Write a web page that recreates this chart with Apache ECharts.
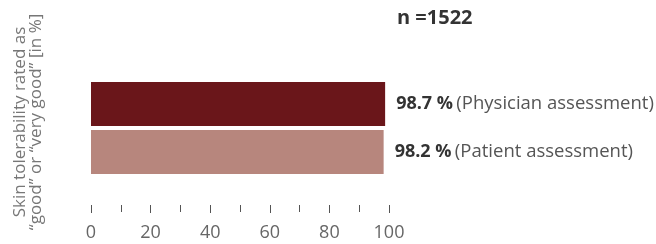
<!DOCTYPE html>
<html>
<head>
<meta charset="utf-8">
<script src="https://cdn.jsdelivr.net/npm/echarts@6/dist/echarts.min.js"></script>
<style>
  html, body { margin: 0; padding: 0; background: #fff; }
  #chart { width: 656px; height: 244px; }
</style>
</head>
<body>
<div id="chart"></div>
<script>
// data
const categories = ['Physician assessment', 'Patient assessment'];
const values = [98.7, 98.2];
const barColors = ['#6a161a', '#b7867d'];
const sampleSize = 'n =1522';
const axisTitle = ['Skin tolerability rated as', '\u201cgood\u201d or \u201cvery good\u201d [in %]'];

const FONT = '"Open Sans", "Noto Sans", sans-serif';

const chart = echarts.init(document.getElementById('chart'));

chart.setOption({
  animation: false,
  grid: { left: 91, right: 267, top: 80, bottom: 68, containLabel: false },
  xAxis: {
    type: 'value', min: 0, max: 100, interval: 20,
    offset: 29,
    axisLine: { show: false },
    splitLine: { show: false },
    axisTick: { show: true, length: 8, lineStyle: { color: '#555', width: 1 } },
    minorTick: { show: true, splitNumber: 2, length: 7, lineStyle: { color: '#555', width: 1 } },
    axisLabel: { margin: 19, fontFamily: FONT, fontSize: 18, color: '#666' }
  },
  yAxis: {
    type: 'category', data: categories, inverse: true,
    axisLine: { show: false }, axisTick: { show: false }, axisLabel: { show: false }
  },
  series: [{
    type: 'bar',
    barWidth: 44,
    data: values.map((v, i) => ({ value: v, itemStyle: { color: barColors[i] } })),
    label: {
      show: true, position: 'right', distance: 11,
      formatter: p => `{b|${p.value.toFixed(1)} %} {n|(${p.name})}`,
      rich: {
        b: { fontFamily: FONT, fontSize: 18, fontWeight: 'bold', color: '#333' },
        n: { fontFamily: FONT, fontSize: 18.5, color: '#555' }
      }
    }
  }],
  graphic: [
    {
      type: 'text', left: 397, top: 8,
      style: { text: sampleSize, fontFamily: FONT, fontSize: 20, fontWeight: 'bold', fill: '#333' }
    },
    {
      type: 'text', x: 28, y: 122, rotation: Math.PI / 2,
      style: {
        text: axisTitle.join('\n'), fontFamily: FONT, fontSize: 17, lineHeight: 16,
        fill: '#777', align: 'center', verticalAlign: 'middle'
      }
    }
  ]
});
</script>
</body>
</html>
